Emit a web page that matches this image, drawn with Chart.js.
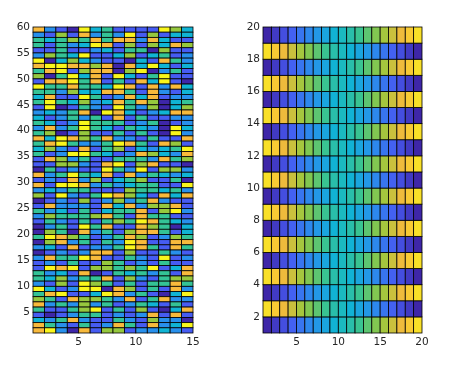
<!DOCTYPE html>
<html>
<head>
<meta charset="utf-8">
<script src="https://cdn.jsdelivr.net/npm/chart.js@4/dist/chart.umd.min.js"></script>
<style>
  html, body { margin: 0; padding: 0; background: #fff; }
  #wrap { position: relative; width: 462px; height: 368px; }
  canvas { position: absolute; top: 0; }
  #left { left: 0; }
  #right { left: 230px; }
</style>
</head>
<body>
<div id="wrap">
  <canvas id="left" width="230" height="368"></canvas>
  <canvas id="right" width="232" height="368"></canvas>
</div>
<script>
/* ============ DATOS ============ */

const leftXTicks = [5, 10, 15];
const leftYTicks = [5, 10, 15, 20, 25, 30, 35, 40, 45, 50, 55, 60];
const rightXTicks = [5, 10, 15, 20];
const rightYTicks = [2, 4, 6, 8, 10, 12, 14, 16, 18, 20];

// left panel: colour level 0..7 per cell, top row (59-60) first, 14 columns
const leftRows = [
    "62107341111753", "21516242715133", "43454646626311", "41423761515365",
    "11411231440511", "25437113513412", "70353211031642", "67766560637313",
    "46715660570241", "50473617314711", "16674614163710", "74464437616263",
    "44253366416213", "36117412636122", "47435236465034", "17014217425035",
    "23246076312366", "31242416141122", "43127444124012", "26247431432073",
    "45015114141072", "63765462214116", "46742247641651", "35216145132347",
    "41277431265326", "16524114442645", "11552167156110", "04121174271552",
    "62474361624323", "12162513451140", "61776242344117", "23244111544342",
    "51721476531636", "01215125246211", "16222163625561", "42314134461572",
    "25444564164411", "14214145476432", "02417461165403", "05406241566413",
    "47654124651254", "05624142761166", "23161224764164", "01212661511421",
    "26447611421712", "12141154121411", "17671554547136", "42316014342416",
    "43524461521455", "21517541414464", "73127706514162", "46711376241037",
    "54165542614622", "62425241243141", "41145714151036", "10124412126161",
    "32462114215220", "64214126416237", "67206155122321"
];

// right panel: value per cell, bottom row (1-2) first, 19 columns
const rightRows = [
    [1, 2, 3, 4, 5, 6, 7, 8, 9, 10, 11, 12, 13, 14, 15, 16, 17, 18, 19],
    [19, 18, 17, 16, 15, 14, 13, 12, 11, 10, 9, 8, 7, 6, 5, 4, 3, 2, 1],
    [1, 2, 3, 4, 5, 6, 7, 8, 9, 10, 11, 12, 13, 14, 15, 16, 17, 18, 19],
    [19, 18, 17, 16, 15, 14, 13, 12, 11, 10, 9, 8, 7, 6, 5, 4, 3, 2, 1],
    [1, 2, 3, 4, 5, 6, 7, 8, 9, 10, 11, 12, 13, 14, 15, 16, 17, 18, 19],
    [19, 18, 17, 16, 15, 14, 13, 12, 11, 10, 9, 8, 7, 6, 5, 4, 3, 2, 1],
    [1, 2, 3, 4, 5, 6, 7, 8, 9, 10, 11, 12, 13, 14, 15, 16, 17, 18, 19],
    [19, 18, 17, 16, 15, 14, 13, 12, 11, 10, 9, 8, 7, 6, 5, 4, 3, 2, 1],
    [1, 2, 3, 4, 5, 6, 7, 8, 9, 10, 11, 12, 13, 14, 15, 16, 17, 18, 19],
    [19, 18, 17, 16, 15, 14, 13, 12, 11, 10, 9, 8, 7, 6, 5, 4, 3, 2, 1],
    [1, 2, 3, 4, 5, 6, 7, 8, 9, 10, 11, 12, 13, 14, 15, 16, 17, 18, 19],
    [19, 18, 17, 16, 15, 14, 13, 12, 11, 10, 9, 8, 7, 6, 5, 4, 3, 2, 1],
    [1, 2, 3, 4, 5, 6, 7, 8, 9, 10, 11, 12, 13, 14, 15, 16, 17, 18, 19],
    [19, 18, 17, 16, 15, 14, 13, 12, 11, 10, 9, 8, 7, 6, 5, 4, 3, 2, 1],
    [1, 2, 3, 4, 5, 6, 7, 8, 9, 10, 11, 12, 13, 14, 15, 16, 17, 18, 19],
    [19, 18, 17, 16, 15, 14, 13, 12, 11, 10, 9, 8, 7, 6, 5, 4, 3, 2, 1],
    [1, 2, 3, 4, 5, 6, 7, 8, 9, 10, 11, 12, 13, 14, 15, 16, 17, 18, 19],
    [19, 18, 17, 16, 15, 14, 13, 12, 11, 10, 9, 8, 7, 6, 5, 4, 3, 2, 1],
    [1, 2, 3, 4, 5, 6, 7, 8, 9, 10, 11, 12, 13, 14, 15, 16, 17, 18, 19]
];

/* ============ COLORES (parula aprox.) ============ */

const parula = [
    [62, 38, 168], [70, 92, 242], [40, 144, 236], [16, 180, 212],
    [52, 195, 150], [150, 200, 62], [248, 186, 60], [249, 246, 28]
];

function parulaAt(t) {
    t = Math.max(0, Math.min(1, t));
    const pos = t * (parula.length - 1);
    const i = Math.min(Math.floor(pos), parula.length - 2);
    const f = pos - i;
    const c = parula[i].map((v, k) => Math.round(v + (parula[i + 1][k] - v) * f));
    return `rgb(${c[0]},${c[1]},${c[2]})`;
}

/* ============ PLUGIN: celdas ============ */

const cellPlugin = {
    id: "cells",
    beforeDatasetsDraw(chart, args, opts) {
        const { ctx, scales: { x, y } } = chart;
        ctx.save();
        ctx.strokeStyle = "#000";
        ctx.lineWidth = 0.8;
        chart.data.datasets[0].data.forEach(p => {
            const x0 = x.getPixelForValue(p.x);
            const x1 = x.getPixelForValue(p.x + 1);
            const y0 = y.getPixelForValue(p.y);
            const y1 = y.getPixelForValue(p.y + 1);
            ctx.fillStyle = opts.colorOf(p.v);
            ctx.fillRect(x0, y1, x1 - x0, y0 - y1);
            ctx.strokeRect(x0, y1, x1 - x0, y0 - y1);
        });
        ctx.restore();
    }
};

/* ============ GRAFICOS ============ */

const font = { family: "'DejaVu Sans', sans-serif", size: 10.5 };

function axis(min, max, ticks, fitSize, horizontal) {
    return {
        type: "linear",
        min: min,
        max: max,
        grid: { display: false, drawTicks: false },
        border: { display: false },
        afterBuildTicks: a => { a.ticks = ticks.map(v => ({ value: v })); },
        afterFit: a => {
            if (horizontal) a.height = fitSize; else a.width = fitSize;
        },
        ticks: { color: "#262626", font: font, padding: 3, maxRotation: 0, autoSkip: false }
    };
}

function makeHeatmap(canvasId, points, xMax, yMax, xTicks, yTicks, rightPad, colorOf) {
    new Chart(document.getElementById(canvasId), {
        type: "scatter",
        data: { datasets: [{ data: points, pointRadius: 0, pointHoverRadius: 0 }] },
        options: {
            responsive: false,
            animation: false,
            layout: { padding: { top: 27, right: rightPad, left: 0, bottom: 0 } },
            plugins: {
                legend: { display: false },
                tooltip: { enabled: false },
                cells: { colorOf: colorOf }
            },
            scales: {
                x: axis(1, xMax, xTicks, 35, true),
                y: axis(1, yMax, yTicks, 33, false)
            }
        },
        plugins: [cellPlugin]
    });
}

const leftPoints = [];
leftRows.forEach((row, i) => {
    row.split("").forEach((d, j) => {
        leftPoints.push({ x: j + 1, y: 59 - i, v: Number(d) });
    });
});

const rightPoints = [];
rightRows.forEach((row, i) => {
    row.forEach((v, j) => {
        rightPoints.push({ x: j + 1, y: i + 1, v: v });
    });
});

makeHeatmap("left", leftPoints, 15, 60, leftXTicks, leftYTicks, 37, v => parulaAt(v / 7));
makeHeatmap("right", rightPoints, 20, 20, rightXTicks, rightYTicks, 40, v => parulaAt((v - 1) / 19));
</script>
</body>
</html>
